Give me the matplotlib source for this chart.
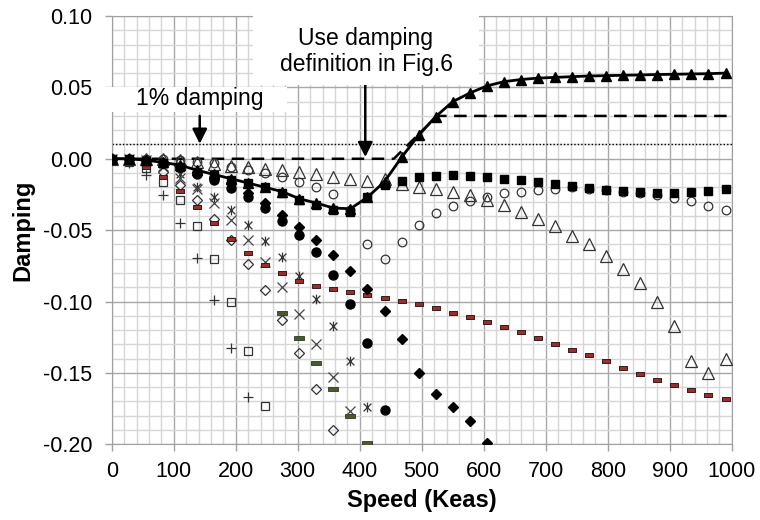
import matplotlib.pyplot as plt
from matplotlib.path import Path
from matplotlib.patches import Rectangle
from matplotlib.ticker import MultipleLocator

plt.rcParams['font.family'] = ['Liberation Sans', 'DejaVu Sans']

# speeds (Keas) used by all the test series
speed = [0, 27.5, 55, 82.5, 110, 137.5, 165, 192.5, 220, 247.5, 275, 302.5,
         330, 357.5, 385, 412.5, 440, 467.5, 495, 522.5, 550, 577.5, 605,
         632.5, 660, 687.5, 715, 742.5, 770, 797.5, 825, 852.5, 880, 907.5,
         935, 962.5, 990]

tri_fill = [0.000, 0.000, -0.001, -0.0025, -0.0045, -0.008, -0.011, -0.014,
            -0.017, -0.020, -0.023, -0.028, -0.031, -0.0345, -0.035, -0.027,
            -0.016, 0.001, 0.0165, 0.0295, 0.040, 0.046, 0.051, 0.054, 0.0555,
            0.0565, 0.057, 0.0575, 0.058, 0.0582, 0.0585, 0.0587, 0.059,
            0.0592, 0.0594, 0.0596, 0.060]
sq_fill = [0.000, 0.000, -0.0015, -0.003, -0.0055, -0.009, -0.0115, -0.015,
           -0.017, -0.0196, -0.024, -0.029, -0.0325, -0.036, -0.037, -0.0266,
           -0.0184, -0.0154, -0.013, -0.012, -0.0115, -0.012, -0.0125, -0.014,
           -0.015, -0.0165, -0.0177, -0.019, -0.0208, -0.022, -0.0226, -0.0236,
           -0.0238, -0.0238, -0.0232, -0.0224, -0.0212]
tri_open = [0.000, 0.000, 0.000, 0.000, -0.001, -0.002, -0.0035, -0.005,
            -0.006, -0.007, -0.008, -0.0095, -0.011, -0.013, -0.0145, -0.0155,
            -0.0145, -0.018, -0.020, -0.0215, -0.023, -0.0255, -0.029, -0.0325,
            -0.037, -0.042, -0.047, -0.054, -0.060, -0.068, -0.077, -0.087,
            -0.100, -0.117, -0.142, -0.150, -0.140]
circ_open = [0.000, 0.000, 0.000, -0.0005, -0.001, -0.002, -0.0032, -0.0056,
             -0.008, -0.010, -0.0126, -0.016, -0.0196, -0.025, -0.036, -0.060,
             -0.0705, -0.058, -0.0465, -0.0383, -0.0332, -0.0296, -0.0266,
             -0.0243, -0.0231, -0.022, -0.0215, -0.020, -0.021, -0.022, -0.023,
             -0.024, -0.0254, -0.0278, -0.0296, -0.033, -0.036]
circ_fill = [0.000, 0.000, -0.001, -0.003, -0.006, -0.0105, -0.015, -0.0207,
             -0.0266, -0.0348, -0.0436, -0.0535, -0.0654, -0.0815, -0.1014,
             -0.1287, -0.1757]
dia_fill = [0.000, 0.000, -0.001, -0.003, -0.006, -0.0095, -0.013, -0.017,
            -0.024, -0.031, -0.0395, -0.048, -0.057, -0.0675, -0.0785, -0.091,
            -0.1065, -0.126, -0.150, -0.1645, -0.174, -0.184, -0.199]
dia_open = [0.000, 0.000, -0.003, -0.009, -0.0184, -0.029, -0.042, -0.057,
            -0.074, -0.092, -0.113, -0.136, -0.161, -0.190]
cross = [0.000, 0.000, -0.001, -0.005, -0.0135, -0.021, -0.031, -0.043,
         -0.057, -0.0726, -0.090, -0.109, -0.130, -0.1528, -0.1766]
aster = [0.000, 0.000, -0.001, -0.004, -0.0105, -0.0196, -0.0266, -0.036,
         -0.0466, -0.0575, -0.069, -0.082, -0.098, -0.117, -0.1418, -0.174]
sq_open = [0.000, -0.002, -0.0067, -0.016, -0.029, -0.047, -0.070, -0.100,
           -0.1346, -0.173]
plus = [0.000, -0.003, -0.0114, -0.0254, -0.0453, -0.0698, -0.099, -0.1322,
        -0.1668]
dash_red = [0.000, -0.002, -0.006, -0.013, -0.0224, -0.0336, -0.0449, -0.0565,
            -0.0663, -0.0745, -0.0803, -0.0855, -0.089, -0.0915, -0.0936,
            -0.0957, -0.0974, -0.0995, -0.102, -0.1047, -0.1077, -0.1107,
            -0.114, -0.1175, -0.1213, -0.1255, -0.1294, -0.1336, -0.1376,
            -0.142, -0.1465, -0.1507, -0.1547, -0.1587, -0.1623, -0.1656,
            -0.1686]
dash_green = [-0.108, -0.1255, -0.1434, -0.1616, -0.1803, -0.199]

# requirement lines
one_pct_x = [0, 1000]
one_pct_y = [0.01, 0.01]
req_x = [0, 455, 525, 1000]
req_y = [0.0, 0.0, 0.03, 0.03]

W, H = 760, 520
fig = plt.figure(figsize=(W / 100, H / 100), dpi=100)
ax = fig.add_axes([111.7 / W, 1 - 444.3 / H, 620 / W, 428.3 / H])


def px(x, y):
    return x / W, 1 - y / H


star = Path([(-1, -1), (1, 1), (-1, 1), (1, -1), (0, -1.25), (0, 1.25)],
            [Path.MOVETO, Path.LINETO, Path.MOVETO, Path.LINETO,
             Path.MOVETO, Path.LINETO])
bar = Path([(-1, -0.4), (1, -0.4), (1, 0.4), (-1, 0.4), (-1, -0.4)],
           [Path.MOVETO, Path.LINETO, Path.LINETO, Path.LINETO, Path.CLOSEPOLY])

ax.plot(one_pct_x, one_pct_y, color='k', lw=1, ls=(0, (1, 1.5)), zorder=2)
ax.plot(req_x, req_y, color='k', lw=1.8, ls=(0, (5, 3)), zorder=2)

ax.plot(speed[:len(plus)], plus, ls='none', marker='+', ms=7, mew=0.9, color='#333333', zorder=3)
ax.plot(speed[:len(sq_open)], sq_open, ls='none', marker='s', ms=6, mfc='none', mec='#333333', mew=0.9, zorder=3)
ax.plot(speed[:len(aster)], aster, ls='none', marker=star, ms=7, mew=0.9, color='#333333', zorder=3)
ax.plot(speed[:len(cross)], cross, ls='none', marker='x', ms=6.5, mew=0.9, color='#444444', zorder=3)
ax.plot(speed[:len(dia_open)], dia_open, ls='none', marker='D', ms=5.6, mfc='none', mec='#333333', mew=0.9, zorder=3)
ax.plot(speed[10:10 + len(dash_green)], dash_green, ls='none', marker=bar, ms=6.5, mfc='#4a5a30', mec='#303a20', mew=0.6, zorder=3)
ax.plot(speed, dash_red, ls='none', marker=bar, ms=5.6, mfc='#9a2e2a', mec='#3a1a1a', mew=0.7, zorder=3)
ax.plot(speed[:len(dia_fill)], dia_fill, ls='none', marker='D', ms=5.6, color='k', zorder=4)
ax.plot(speed[:len(circ_fill)], circ_fill, ls='none', marker='o', ms=6.5, color='k', zorder=4)
ax.plot(speed, circ_open, ls='none', marker='o', ms=6.2, mfc='none', mec='#333333', mew=0.9, zorder=4)
ax.plot(speed, tri_open, ls='none', marker='^', ms=8.5, mfc='none', mec='#333333', mew=0.9, zorder=4)
ax.plot(speed, sq_fill, ls='none', marker='s', ms=6.2, color='k', zorder=5)
ax.plot(speed, tri_fill, color='k', lw=2, marker='^', ms=7.5, zorder=6)

ax.set_xlim(0, 1000)
ax.set_ylim(-0.2, 0.1)
ax.xaxis.set_major_locator(MultipleLocator(100))
ax.xaxis.set_minor_locator(MultipleLocator(20))
ax.yaxis.set_major_locator(MultipleLocator(0.05))
ax.yaxis.set_minor_locator(MultipleLocator(0.01))
ax.yaxis.set_major_formatter(lambda v, p: f'{v:.2f}')
ax.set_axisbelow(True)
ax.grid(which='major', color='#a8a8a8', lw=1)
ax.grid(which='minor', color='#d6d6d6', lw=1)
ax.tick_params(which='major', direction='out', length=5, width=1, color='#a0a0a0',
               labelsize=15.5)
ax.tick_params(axis='y', pad=9)
ax.tick_params(axis='x', pad=7)
ax.tick_params(which='minor', length=0)
for s in ax.spines.values():
    s.set_color('#a0a0a0')

ax.set_xlabel('Speed (Keas)', fontsize=17, fontweight='bold', labelpad=5)
ax.set_ylabel('Damping', fontsize=17, fontweight='bold', labelpad=6)

# annotation boxes
fig.add_artist(Rectangle(px(103, 112), 184 / W, 25 / H, transform=fig.transFigure,
                         facecolor='white', edgecolor='none', zorder=5))
fig.add_artist(Rectangle(px(253, 85), 226 / W, 77 / H, transform=fig.transFigure,
                         facecolor='white', edgecolor='none', zorder=5))
fig.text(*px(200, 98), '1% damping', fontsize=16.5, ha='center', va='center', zorder=6)
fig.text(*px(366, 38), 'Use damping', fontsize=16.5, ha='center', va='center', zorder=6)
fig.text(*px(366, 64), 'definition in Fig.6', fontsize=16.5, ha='center', va='center', zorder=6)

ax.annotate('', xy=(142, 0.0105), xytext=(142, 0.030),
            arrowprops=dict(arrowstyle='-|>', color='k', lw=1.8, mutation_scale=22,
                            shrinkA=0, shrinkB=0), zorder=7)
ax.annotate('', xy=(409, 0.0012), xytext=(409, 0.052),
            arrowprops=dict(arrowstyle='-|>', color='k', lw=1.8, mutation_scale=22,
                            shrinkA=0, shrinkB=0), zorder=7)

fig.savefig('out.png', dpi=100)
